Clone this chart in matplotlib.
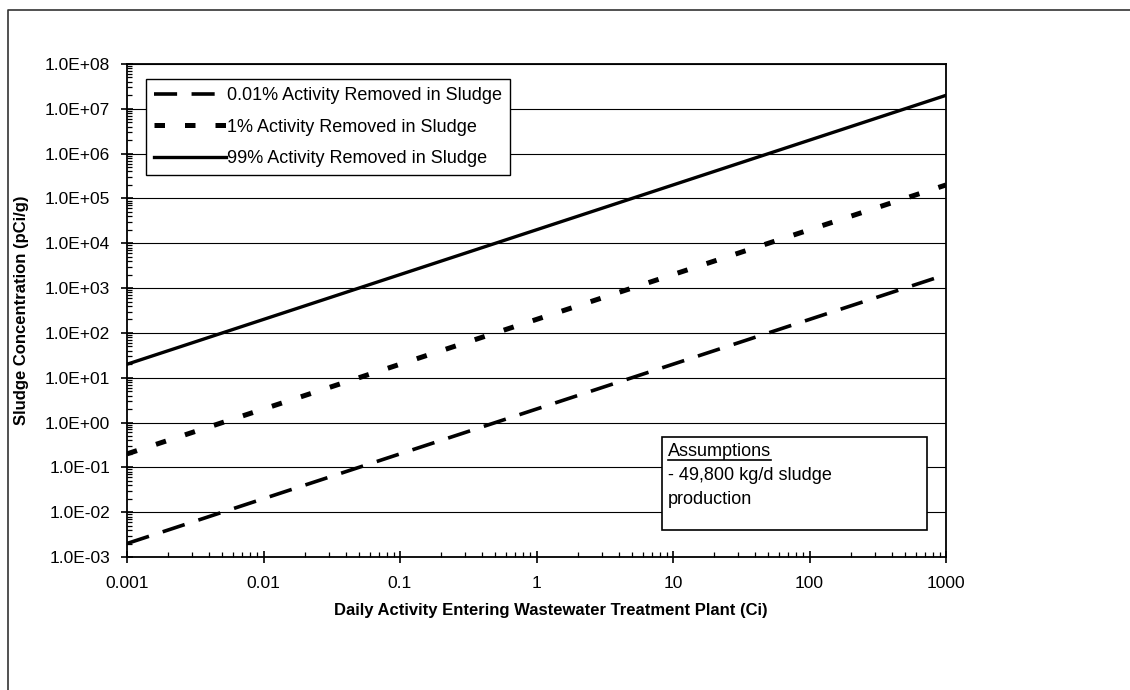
import numpy as np
import matplotlib
matplotlib.use("Agg")
import matplotlib.pyplot as plt
from matplotlib.ticker import LogLocator, FuncFormatter, NullFormatter
from matplotlib.lines import Line2D
from matplotlib.patches import Rectangle

plt.rcParams['font.family'] = ['Liberation Sans', 'DejaVu Sans']

# daily activity entering the plant (Ci)
activity = [0.001, 0.002, 0.005, 0.01, 0.02, 0.05, 0.1, 0.2, 0.5,
            1, 2, 5, 10, 20, 50, 100, 200, 500, 1000]

# sludge concentration (pCi/g)
conc_001 = [0.002, 0.004, 0.01, 0.02, 0.04, 0.1, 0.2, 0.4, 1.0,
            2.0, 4.0, 10, 20, 40, 100, 200, 400, 1000, 2000]
conc_1 = [0.2, 0.4, 1.0, 2.0, 4.0, 10, 20, 40, 100,
          200, 400, 1000, 2000, 4000, 10000, 20000, 40000, 100000, 200000]
conc_99 = [20, 40, 100, 200, 400, 1000, 2000, 4000, 10000,
           20000, 40000, 100000, 200000, 400000, 1000000, 2000000,
           4000000, 10000000, 20000000]

labels = ['0.01% Activity Removed in Sludge',
          '1% Activity Removed in Sludge',
          '99% Activity Removed in Sludge']

x_ticks = [0.001, 0.01, 0.1, 1, 10, 100, 1000]
y_ticks = [1e-3, 1e-2, 1e-1, 1e0, 1e1, 1e2, 1e3, 1e4, 1e5, 1e6, 1e7, 1e8]

fig = plt.figure(figsize=(11.3, 6.9), dpi=100)
ax = fig.add_axes([127/1130, 1-557/690, (946-127)/1130, (557-64)/690])

ax.plot(activity, conc_001, color='black', lw=2.6, linestyle=(0, (6.4, 4.0)), label=labels[0])
ax.plot(activity, conc_1, color='black', lw=3.6, linestyle=(0, (2.1, 4.0)), label=labels[1])
ax.plot(activity, conc_99, color='black', lw=2.4, linestyle='-', label=labels[2])

ax.set_xscale('log')
ax.set_yscale('log')
ax.set_xlim(0.001, 1000)
ax.set_ylim(1e-3, 1e8)

ax.set_yticks(y_ticks)
ax.yaxis.set_minor_locator(LogLocator(base=10, subs=np.arange(2, 10), numticks=200))
ax.yaxis.set_major_formatter(FuncFormatter(lambda v, p: "%.1E" % v))
ax.yaxis.set_minor_formatter(NullFormatter())
ax.set_xticks(x_ticks)
ax.xaxis.set_minor_locator(LogLocator(base=10, subs=np.arange(2, 10), numticks=200))
ax.xaxis.set_major_formatter(FuncFormatter(lambda v, p: "%g" % v))
ax.xaxis.set_minor_formatter(NullFormatter())
ax.set_xlim(0.001, 1000)
ax.set_ylim(1e-3, 1e8)

ax.tick_params(which='major', direction='inout', length=8, width=1.2, labelsize=12.5, color='black')
ax.tick_params(axis='y', which='major', pad=8)
ax.tick_params(axis='x', which='major', pad=10)
ax.tick_params(which='minor', direction='in', length=3.5, width=0.9)
ax.tick_params(top=False, right=False)

ax.grid(axis='y', which='major', color='black', lw=0.8)
for s in ax.spines.values():
    s.set_linewidth(1.3)
    s.set_color('black')

ax.set_xlabel('Daily Activity Entering Wastewater Treatment Plant (Ci)', fontsize=12, fontweight='bold')
ax.xaxis.set_label_coords((551-127)/819, (557-610)/493)
ax.xaxis.label.set_va('center')
fig.text(22/1130, 1-310/690, 'Sludge Concentration (pCi/g)', rotation=90,
         ha='center', va='center', fontsize=12, fontweight='bold')

leg = ax.legend(loc='upper left', bbox_to_anchor=((146-127)/819, (557-79)/493),
                borderaxespad=0, fontsize=13, frameon=True, fancybox=False,
                handlelength=4.0, handletextpad=0.05, borderpad=0.45,
                labelspacing=0.8)
leg.get_frame().set_edgecolor('black')
leg.get_frame().set_linewidth(1.0)
leg.get_frame().set_alpha(1)

# assumptions box
x0 = (662-127)/819
y0 = (557-530)/493
ax.add_patch(Rectangle((x0, y0), (927-662)/819, (530-437)/493, transform=ax.transAxes,
                       facecolor='white', edgecolor='black', lw=1.2, zorder=5))
t = ax.text((668-127)/819, (557-452)/493, 'Assumptions', transform=ax.transAxes,
            fontsize=13, va='center', ha='left', zorder=6)
ax.text((668-127)/819, (557-475)/493, '- 49,800 kg/d sludge', transform=ax.transAxes,
        fontsize=13, va='center', ha='left', zorder=6)
ax.text((668-127)/819, (557-500)/493, 'production', transform=ax.transAxes,
        fontsize=13, va='center', ha='left', zorder=6)

fig.canvas.draw()
bb = t.get_window_extent().transformed(ax.transAxes.inverted())
ax.add_line(Line2D([bb.x0, bb.x1], [bb.y0 + 0.002, bb.y0 + 0.002], transform=ax.transAxes,
                   color='black', lw=1.2, zorder=6))

# outer chart border (cut off at right and bottom)
fig.add_artist(Line2D([8/1130, 8/1130, 1.0], [0.0, 1-10/690, 1-10/690],
                      transform=fig.transFigure, color='#333333', lw=1.2))

fig.savefig('out.png', dpi=100)
